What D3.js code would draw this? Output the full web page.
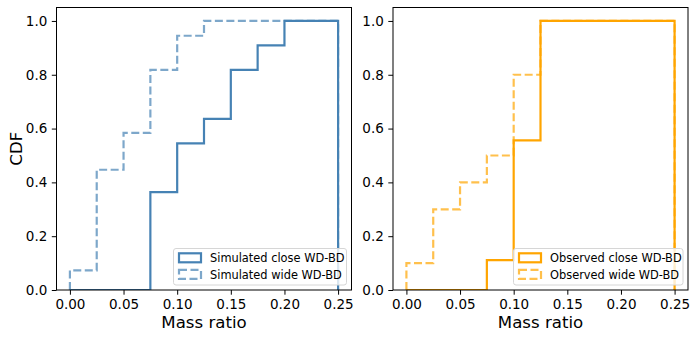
<!DOCTYPE html>
<html>
<head>
<meta charset="utf-8">
<script src="https://cdn.jsdelivr.net/npm/d3@7"></script>
<style>
  body { margin: 0; background: #fff; }
  svg { display: block; font-family: "DejaVu Sans", sans-serif; }
</style>
</head>
<body>
<div id="chart"></div>
<script>
// bin edges shared by every histogram
const binEdges = [0, 0.025, 0.05, 0.075, 0.1, 0.125, 0.15, 0.175, 0.2, 0.225, 0.25];

// cumulative fractions per bin
const simClose = [0, 0, 0, 0.364, 0.545, 0.636, 0.818, 0.909, 1.0, 1.0];
const simWide  = [0.073, 0.447, 0.584, 0.818, 0.945, 1.0, 1.0, 1.0, 1.0, 1.0];
const obsClose = [0, 0, 0, 0.111, 0.556, 1.0, 1.0, 1.0, 1.0, 1.0];
const obsWide  = [0.1, 0.3, 0.4, 0.5, 0.8, 1.0, 1.0, 1.0, 1.0, 1.0];

const xTicks = [0, 0.05, 0.1, 0.15, 0.2, 0.25];
const yTicks = [0, 0.2, 0.4, 0.6, 0.8, 1.0];

const panels = [
  {left: 56.5, right: 351.5, color: "#4682b4", yLabel: "CDF",
   series: [{name: "Simulated close WD-BD", values: simClose, dashed: false},
            {name: "Simulated wide WD-BD", values: simWide, dashed: true}],
   legendX: 173.5},
  {left: 393, right: 688, color: "#ffa500", yLabel: null,
   series: [{name: "Observed close WD-BD", values: obsClose, dashed: false},
            {name: "Observed wide WD-BD", values: obsWide, dashed: true}],
   legendX: 513.5}
];

const W = 698, H = 339, plotTop = 7.5, plotBottom = 290;

const svg = d3.select("#chart").append("svg")
    .attr("width", W)
    .attr("height", H);

// step outline the way matplotlib draws histtype="step"
function stepPoints(values) {
  const pts = [[binEdges[0], 0]];
  values.forEach((v, i) => {
    pts.push([binEdges[i], v]);
    pts.push([binEdges[i + 1], v]);
  });
  pts.push([binEdges[binEdges.length - 1], 0]);
  return pts;
}

panels.forEach((p, pi) => {
  const x = d3.scaleLinear().domain([-0.0125, 0.2625]).range([p.left, p.right]);
  const y = d3.scaleLinear().domain([0, 1.05]).range([plotBottom, plotTop]);

  const clipId = "clip" + pi;
  svg.append("clipPath").attr("id", clipId)
    .append("rect")
      .attr("x", p.left).attr("y", plotTop)
      .attr("width", p.right - p.left).attr("height", plotBottom - plotTop);

  const line = d3.line().x(d => x(d[0])).y(d => y(d[1]));

  const gLines = svg.append("g")
      .attr("clip-path", `url(#${clipId})`)
      .attr("fill", "none")
      .attr("stroke-width", 2.2);

  p.series.forEach(s => {
    gLines.append("path")
        .attr("d", line(stepPoints(s.values)))
        .attr("stroke", p.color)
        .attr("stroke-opacity", s.dashed ? 0.7 : 1)
        .attr("stroke-dasharray", s.dashed ? "8,3.5" : null)
        .attr("stroke-linejoin", "miter");
  });

  // axes
  const xAxis = svg.append("g")
      .attr("transform", `translate(0,${plotBottom})`)
      .call(d3.axisBottom(x).tickValues(xTicks).tickFormat(d3.format(".2f"))
        .tickSize(4.7).tickPadding(4.5));
  const yAxis = svg.append("g")
      .attr("transform", `translate(${p.left},0)`)
      .call(d3.axisLeft(y).tickValues(yTicks).tickFormat(d3.format(".1f"))
        .tickSize(4.7).tickPadding(4.5));

  [xAxis, yAxis].forEach(a => {
    a.select(".domain").remove();
    a.selectAll("text")
        .attr("fill", "#000")
        .style("font-family", "DejaVu Sans")
        .style("font-size", "13.5px");
    a.selectAll("line").attr("stroke", "#000").attr("stroke-width", 1);
  });

  // frame
  svg.append("rect")
      .attr("x", p.left).attr("y", plotTop)
      .attr("width", p.right - p.left).attr("height", plotBottom - plotTop)
      .attr("fill", "none")
      .attr("stroke", "#000")
      .attr("stroke-width", 1);

  svg.append("text")
      .attr("x", (p.left + p.right) / 2)
      .attr("y", 328)
      .attr("text-anchor", "middle")
      .style("font-size", "16.6px")
      .text("Mass ratio");

  if (p.yLabel) {
    svg.append("text")
        .attr("transform", `translate(21.5,${(plotTop + plotBottom) / 2}) rotate(-90)`)
        .attr("text-anchor", "middle")
        .style("font-size", "16.6px")
        .text(p.yLabel);
  }

  // legend
  const lg = svg.append("g").attr("transform", `translate(${p.legendX},248.5)`);
  const lgW = p.right - 5 - p.legendX;
  lg.append("rect")
      .attr("width", lgW).attr("height", 36.5)
      .attr("rx", 2.5)
      .attr("fill", "#fff").attr("fill-opacity", 0.8)
      .attr("stroke", "#d6d6d6").attr("stroke-width", 1);

  p.series.forEach((s, i) => {
    const cy = 9.3 + i * 16.6;
    lg.append("rect")
        .attr("x", 5.5).attr("y", cy - 4.5)
        .attr("width", 22).attr("height", 9)
        .attr("fill", "none")
        .attr("stroke", p.color)
        .attr("stroke-width", 2.2)
        .attr("stroke-opacity", s.dashed ? 0.7 : 1)
        .attr("stroke-dasharray", s.dashed ? "8,3.5" : null);
    lg.append("text")
        .attr("x", 36.5).attr("y", cy + 4.2)
        .style("font-size", "11.4px")
        .text(s.name);
  });
});
</script>
</body>
</html>
